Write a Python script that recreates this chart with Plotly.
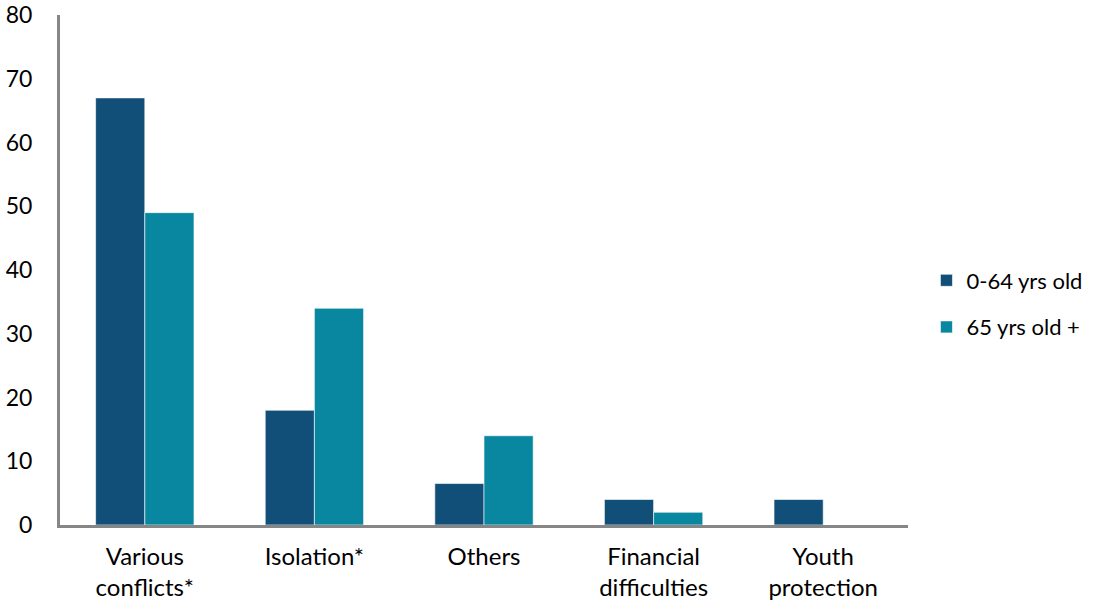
import plotly.graph_objects as go

categories = ["Various<br>conflicts*", "Isolation*", "Others", "Financial<br>difficulties", "Youth<br>protection"]
young = [67, 18, 6.5, 4, 4]
old = [49, 34, 14, 2, 0]
series_names = ["0-64 yrs old", "65 yrs old +"]
colors = ["#114e78", "#0a87a0"]
y_ticks = [0, 10, 20, 30, 40, 50, 60, 70, 80]

FONT = "Lato, Carlito, Calibri, sans-serif"

fig = go.Figure()
for i, (name, vals) in enumerate(zip(series_names, [young, old])):
    fig.add_trace(go.Bar(
        x=categories, y=vals, name=name,
        marker=dict(color=colors[i], line=dict(color="rgba(255,255,255,0.6)", width=1)),
        legendgroup=f"g{i}",
    ))

fig.update_layout(
    width=1099, height=608,
    margin=dict(l=60, r=191, t=15, b=83),
    paper_bgcolor="white", plot_bgcolor="white",
    barmode="group", bargap=0.42, bargroupgap=0,
    font=dict(family=FONT, size=23, color="#000000"),
    showlegend=True,
    legend=dict(
        xref="container", yref="container",
        x=0.843, y=0.5, xanchor="left", yanchor="middle",
        font=dict(size=22), tracegroupgap=15,
        itemwidth=30,
    ),
    xaxis=dict(
        showline=True, linecolor="#868686", linewidth=3,
        ticks="", tickfont=dict(size=24), ticklabelstandoff=8,
        showgrid=False, automargin=False,
    ),
    yaxis=dict(
        range=[0, 80], tickvals=y_ticks,
        showline=True, linecolor="#868686", linewidth=3,
        ticks="", showgrid=False, zeroline=False,
        tickfont=dict(size=23), ticklabelstandoff=20, automargin=False,
    ),
)

fig.write_html("out.html")
